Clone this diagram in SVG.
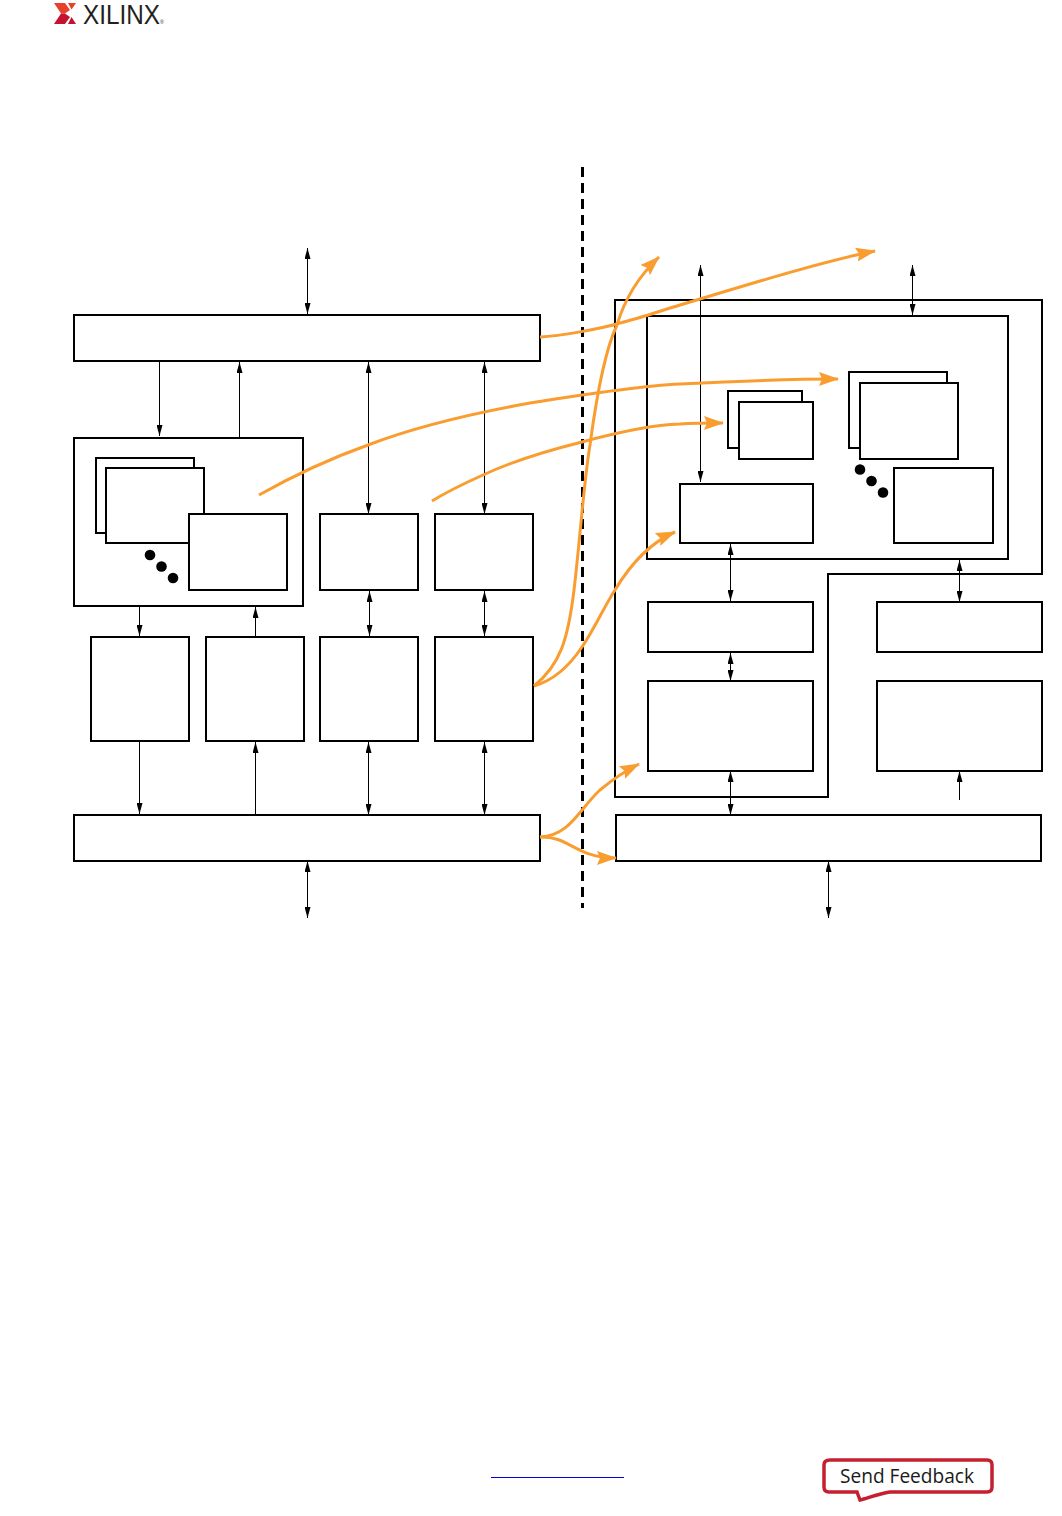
<svg xmlns="http://www.w3.org/2000/svg" width="1062" height="1516" viewBox="0 0 1062 1516">
<style>
.b{fill:#fff;stroke:#000;stroke-width:2}
.t{fill:none;stroke:#000;stroke-width:1}
.both{marker-start:url(#k);marker-end:url(#k)}
.end{marker-end:url(#k)}
.o{fill:none;stroke:#f99d31;stroke-width:3;marker-end:url(#h)}
</style>
<defs>
<marker id="k" viewBox="0 0 11 6" refX="11" refY="3" markerWidth="11" markerHeight="6" markerUnits="userSpaceOnUse" orient="auto-start-reverse"><path d="M0 0L11 3L0 6Z" fill="#000"/></marker>
<marker id="h" viewBox="0 0 20 14" refX="19" refY="7" markerWidth="20" markerHeight="14" markerUnits="userSpaceOnUse" orient="auto"><path d="M0 0L20 7L0 14L3 7Z" fill="#f99d31"/></marker>
</defs>
<rect width="1062" height="1516" fill="#fff"/>
<g id="logo">
<path d="M54 3H65L70 10L65 13.500H61Z" fill="#e8412b"/>
<path d="M61 13.500H65L70 17L65 24H54Z" fill="#c41230"/>
<path d="M68 3H76L71.500 9.500Z" fill="#e8412b"/>
<path d="M71.500 17L76 24H68Z" fill="#c41230"/>
<text transform="translate(83 24) scale(.868 1)" font-family="'Liberation Sans',Arial,sans-serif" font-size="28" fill="#231f20">XILINX<tspan font-size="6">®</tspan></text>
</g>
<g id="divider"><line x1="582.500" y1="167" x2="582.500" y2="908" stroke="#000" stroke-width="3" stroke-dasharray="10 6"/></g>
<g id="left-top-bus"><rect class="b" x="74" y="315" width="466" height="46"/></g>
<g id="left-cluster">
<rect class="b" x="74" y="438" width="229" height="168"/>
<rect class="b" x="96" y="458" width="98" height="75"/>
<rect class="b" x="106" y="468" width="98" height="75"/>
<rect class="b" x="189" y="514" width="98" height="76"/>
<circle cx="150" cy="555" r="5.300"/><circle cx="161.500" cy="566.500" r="5.300"/><circle cx="173" cy="578" r="5.300"/>
</g>
<g id="left-a"><rect class="b" x="320" y="514" width="98" height="76"/></g>
<g id="left-b"><rect class="b" x="435" y="514" width="98" height="76"/></g>
<g id="left-c"><rect class="b" x="91" y="637" width="98" height="104"/></g>
<g id="left-d"><rect class="b" x="206" y="637" width="98" height="104"/></g>
<g id="left-e"><rect class="b" x="320" y="637" width="98" height="104"/></g>
<g id="left-f"><rect class="b" x="435" y="637" width="98" height="104"/></g>
<g id="left-bottom-bus"><rect class="b" x="74" y="815" width="466" height="46"/></g>
<g id="right-bottom-bus"><rect class="b" x="616" y="815" width="425" height="46"/></g>
<g id="right-outer"><path class="b" d="M615 300H1042V574H828V797H615Z"/></g>
<g id="right-inner">
<rect class="b" x="647" y="316" width="361" height="243"/>
<rect class="b" x="728" y="391" width="74" height="57"/>
<rect class="b" x="739" y="402" width="74" height="57"/>
<rect class="b" x="849" y="372" width="98" height="76"/>
<rect class="b" x="860" y="383" width="98" height="76"/>
<rect class="b" x="894" y="468" width="99" height="75"/>
<rect class="b" x="680" y="484" width="133" height="59"/>
<circle cx="860" cy="469.500" r="5.300"/><circle cx="871.500" cy="481" r="5.300"/><circle cx="883" cy="492.500" r="5.300"/>
</g>
<g id="right-a"><rect class="b" x="648" y="602" width="165" height="50"/></g>
<g id="right-b"><rect class="b" x="877" y="602" width="165" height="50"/></g>
<g id="right-c"><rect class="b" x="648" y="681" width="165" height="90"/></g>
<g id="right-d"><rect class="b" x="877" y="681" width="165" height="90"/></g>
<g id="connectors">
<path class="t both" d="M307.500 248V314"/>
<path class="t end" d="M159.500 361V436"/>
<path class="t end" d="M239.500 437V362"/>
<path class="t both" d="M368.500 362V514"/>
<path class="t both" d="M484.500 362V514"/>
<path class="t end" d="M139.500 606V636"/>
<path class="t end" d="M255.500 637V607"/>
<path class="t both" d="M369.500 591V636"/>
<path class="t both" d="M484.500 591V636"/>
<path class="t end" d="M139.500 741V814"/>
<path class="t end" d="M255.500 815V742"/>
<path class="t both" d="M368.500 742V815"/>
<path class="t both" d="M484.500 742V815"/>
<path class="t both" d="M307.500 861V918"/>
<path class="t both" d="M828.500 861V918"/>
<path class="t both" d="M730.500 771V815"/>
<path class="t both" d="M730.500 653V681"/>
<path class="t both" d="M730.500 544V601"/>
<path class="t both" d="M959.500 560V602"/>
<path class="t end" d="M959.500 800V771"/>
<path class="t both" d="M700.500 265V482"/>
<path class="t both" d="M912.500 265V315"/>
<path class="o" d="M540 337C560 336 600 329 620 323C640 318 660 311 680 305C740 287 820 262 875 251"/>
<path class="o" d="M259 495C300 472 340 455 368 445C420 425 480 412 530 403C580 395 640 386 680 384C740 381 790 379 838 379"/>
<path class="o" d="M432 501C450 490 465 483 483 475C515 460 550 450 582 442C615 433 650 425 680 424C695 423 710 423 723 423"/>
<path class="o" d="M534 686C560 665 568 640 574 590C580 540 584 480 590 445C596 400 605 350 617 325C625 298 640 275 659 257"/>
<path class="o" d="M534 686C555 680 570 665 582 647C595 628 605 605 615 590C627 570 645 545 675 532"/>
<path class="o" d="M540 837C570 836 580 808 600 790C612 780 625 771 639 764"/>
<path class="o" d="M540 837C570 836 575 858 616 858"/>
</g>
<g id="footer">
<line x1="491" y1="1477.500" x2="624" y2="1477.500" stroke="#0000d0" stroke-width="1"/>
<path d="M830 1460H987Q992 1460 992 1465V1487Q992 1492 987 1492H890C878 1494 868 1498 860 1500L857 1492H829Q824 1492 824 1487V1465Q824 1460 830 1460Z" fill="#fff" stroke="#c4202f" stroke-width="3.500"/>
<text x="840" y="1483" font-family="'Open Sans','Noto Sans',sans-serif" font-size="20" textLength="134" lengthAdjust="spacingAndGlyphs" fill="#1a1a1a">Send Feedback</text>
</g>
</svg>
